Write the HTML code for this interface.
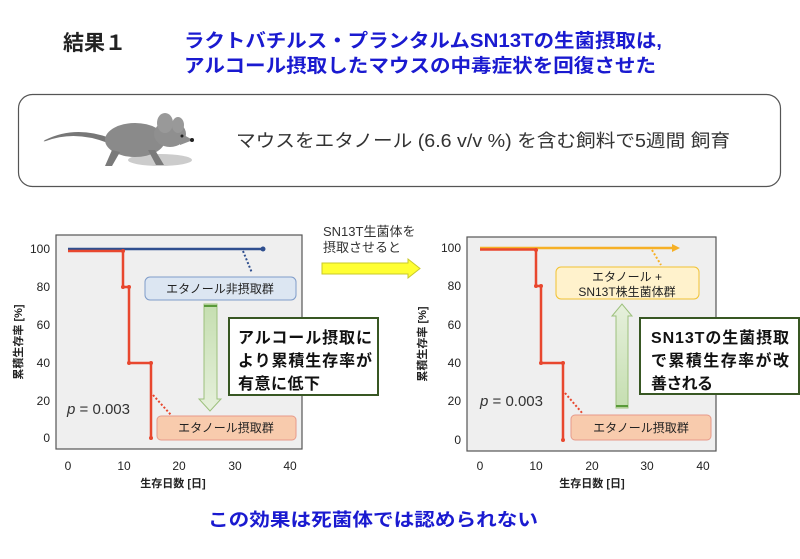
<!DOCTYPE html>
<html><head><meta charset="utf-8"><style>
body{margin:0;background:#fff}
svg text{font-family:"Liberation Sans","Noto Sans CJK JP",sans-serif}
</style></head><body>
<svg width="800" height="554" viewBox="0 0 800 554" xmlns="http://www.w3.org/2000/svg">
<text x="63" y="50" font-size="21" font-weight="bold" fill="#222">結果１</text>
<text x="184" y="47" font-size="19" font-weight="bold" fill="#1a1ad0" textLength="478" lengthAdjust="spacingAndGlyphs">ラクトバチルス・プランタルムSN13Tの生菌摂取は,</text>
<text x="184" y="72" font-size="19" font-weight="bold" fill="#1a1ad0" textLength="472" lengthAdjust="spacingAndGlyphs">アルコール摂取したマウスの中毒症状を回復させた</text>
<rect x="18.5" y="94.5" width="762" height="92" rx="14" fill="#fff" stroke="#555" stroke-width="1.2"/>
<!-- mouse -->
<ellipse cx="160" cy="160" rx="32" ry="6" fill="#ccc"/>
<path d="M110 138 Q75 125 45 140 Q42 142 46 141 Q75 130 108 143Z" fill="#777"/>
<ellipse cx="135" cy="140" rx="30" ry="17" fill="#8a8a8a"/>
<ellipse cx="170" cy="134" rx="16" ry="13" fill="#8f8f8f"/>
<ellipse cx="165" cy="123" rx="8" ry="10" fill="#999"/>
<ellipse cx="178" cy="125" rx="6" ry="8" fill="#999"/>
<path d="M180 133 L193 140 L180 145Z" fill="#8f8f8f"/>
<circle cx="192" cy="140" r="2" fill="#222"/>
<circle cx="182" cy="136" r="1.5" fill="#222"/>
<path d="M112 150 L105 166 L112 166 L120 152Z M148 150 L156 165 L164 165 L155 150Z" fill="#7a7a7a"/>
<text x="236" y="147" font-size="18" fill="#333" textLength="494" lengthAdjust="spacingAndGlyphs">マウスをエタノール (6.6 v/v %) を含む飼料で5週間 飼育</text>

<!-- LEFT CHART -->
<rect x="56" y="235" width="246" height="214" fill="#efefef" stroke="#555" stroke-width="1.2"/>
<g font-size="12" fill="#222" text-anchor="end">
<text x="50" y="253">100</text><text x="50" y="291">80</text><text x="50" y="329">60</text><text x="50" y="367">40</text><text x="50" y="405">20</text><text x="50" y="442">0</text>
</g>
<g font-size="12" fill="#222" text-anchor="middle">
<text x="68" y="470">0</text><text x="124" y="470">10</text><text x="179" y="470">20</text><text x="235" y="470">30</text><text x="290" y="470">40</text>
</g>
<text x="173" y="487" font-size="11" font-weight="bold" text-anchor="middle" fill="#222">生存日数 [日]</text>
<text transform="translate(22,342) rotate(-90)" font-size="11" font-weight="bold" text-anchor="middle" fill="#222">累積生存率 [%]</text>
<line x1="68" y1="249" x2="263" y2="249" stroke="#2f4f8f" stroke-width="2.5"/>
<circle cx="263" cy="249" r="2.5" fill="#2f4f8f"/>
<polyline points="68,251 123,251 123,287 129,287 129,363 151,363 151,438" fill="none" stroke="#e8472e" stroke-width="2.5"/>
<g fill="#e8472e"><circle cx="123" cy="251" r="2"/><circle cx="123" cy="287" r="2"/><circle cx="129" cy="287" r="2"/><circle cx="129" cy="363" r="2"/><circle cx="151" cy="363" r="2"/><circle cx="151" cy="438" r="2"/></g>
<line x1="243" y1="251" x2="252" y2="273" stroke="#2f4f8f" stroke-width="2" stroke-dasharray="2,2"/>
<rect x="145" y="277" width="151" height="23" rx="5" fill="#dce6f2" stroke="#7f9cc9"/>
<text x="220" y="293" font-size="12" text-anchor="middle" fill="#222">エタノール非摂取群</text>
<defs><linearGradient id="gd" x1="0" y1="0" x2="0" y2="1"><stop offset="0" stop-color="#c5deb0"/><stop offset="1" stop-color="#e6f0dc"/></linearGradient>
<linearGradient id="gu" x1="0" y1="1" x2="0" y2="0"><stop offset="0" stop-color="#c5deb0"/><stop offset="1" stop-color="#e6f0dc"/></linearGradient></defs>
<path d="M204 304 L217 304 L217 399 L221 399 L210 411 L199 399 L204 399Z" fill="url(#gd)" stroke="#9cc07c"/>
<line x1="204" y1="306" x2="217" y2="306" stroke="#5a9a3a" stroke-width="2"/>
<rect x="229" y="318" width="149" height="77" fill="#fff" stroke="#385723" stroke-width="2"/>
<g font-size="16" font-weight="bold" fill="#111"><text x="238" y="343" textLength="134">アルコール摂取に</text><text x="238" y="366" textLength="134">より累積生存率が</text><text x="238" y="389" textLength="82">有意に低下</text></g>
<text x="67" y="414" font-size="15" fill="#333"><tspan font-style="italic">p</tspan> = 0.003</text>
<line x1="153" y1="395" x2="171" y2="415" stroke="#e8472e" stroke-width="2" stroke-dasharray="2,2"/>
<rect x="157" y="416" width="139" height="24" rx="4" fill="#f8cbad" stroke="#e79a8a"/>
<text x="226" y="432" font-size="12" text-anchor="middle" fill="#222">エタノール摂取群</text>

<!-- middle -->
<text x="323" y="236" font-size="13" fill="#333">SN13T生菌体を</text>
<text x="323" y="252" font-size="13" fill="#333">摂取させると</text>
<path d="M322 263 L408 263 L408 259 L420 268.5 L408 278 L408 274 L322 274Z" fill="#ffff33" stroke="#c9c92a"/>

<!-- RIGHT CHART -->
<rect x="467" y="237" width="249" height="214" fill="#efefef" stroke="#555" stroke-width="1.2"/>
<g font-size="12" fill="#222" text-anchor="end">
<text x="461" y="252">100</text><text x="461" y="290">80</text><text x="461" y="329">60</text><text x="461" y="367">40</text><text x="461" y="405">20</text><text x="461" y="444">0</text>
</g>
<g font-size="12" fill="#222" text-anchor="middle">
<text x="480" y="470">0</text><text x="536" y="470">10</text><text x="592" y="470">20</text><text x="647" y="470">30</text><text x="703" y="470">40</text>
</g>
<text x="592" y="487" font-size="11" font-weight="bold" text-anchor="middle" fill="#222">生存日数 [日]</text>
<text transform="translate(426,344) rotate(-90)" font-size="11" font-weight="bold" text-anchor="middle" fill="#222">累積生存率 [%]</text>
<line x1="480" y1="248" x2="674" y2="248" stroke="#f6b026" stroke-width="2.5"/>
<path d="M672 244 L680 248 L672 252Z" fill="#f6b026"/>
<polyline points="480,249.5 536,249.5 536,286 541,286 541,363 563,363 563,440" fill="none" stroke="#e8472e" stroke-width="2.5"/>
<g fill="#e8472e"><circle cx="536" cy="250" r="2"/><circle cx="536" cy="286" r="2"/><circle cx="541" cy="286" r="2"/><circle cx="541" cy="363" r="2"/><circle cx="563" cy="363" r="2"/><circle cx="563" cy="440" r="2"/></g>
<line x1="652" y1="250" x2="661" y2="265" stroke="#f6b026" stroke-width="2" stroke-dasharray="2,2"/>
<rect x="556" y="267" width="143" height="32" rx="5" fill="#fff2cc" stroke="#f1c232"/>
<text x="627" y="281" font-size="12" text-anchor="middle" fill="#222">エタノール +</text>
<text x="627" y="296" font-size="12" text-anchor="middle" fill="#222">SN13T株生菌体群</text>
<path d="M616 408 L628 408 L628 316 L632 316 L622 304 L612 316 L616 316Z" fill="url(#gu)" stroke="#9cc07c"/>
<line x1="616" y1="406" x2="628" y2="406" stroke="#5a9a3a" stroke-width="2"/>
<rect x="640" y="318" width="159" height="76" fill="#fff" stroke="#385723" stroke-width="2"/>
<g font-size="16" font-weight="bold" fill="#111"><text x="651" y="343" textLength="138">SN13Tの生菌摂取</text><text x="651" y="366" textLength="138">で累積生存率が改</text><text x="651" y="389" textLength="62">善される</text></g>
<text x="480" y="406" font-size="15" fill="#333"><tspan font-style="italic">p</tspan> = 0.003</text>
<line x1="565" y1="393" x2="583" y2="414" stroke="#e8472e" stroke-width="2" stroke-dasharray="2,2"/>
<rect x="571" y="415" width="140" height="25" rx="4" fill="#f8cbad" stroke="#e79a8a"/>
<text x="641" y="432" font-size="12" text-anchor="middle" fill="#222">エタノール摂取群</text>

<text x="208" y="526" font-size="18" font-weight="bold" fill="#1a1ad0" textLength="330" lengthAdjust="spacingAndGlyphs">この効果は死菌体では認められない</text>
</svg>
</body></html>
